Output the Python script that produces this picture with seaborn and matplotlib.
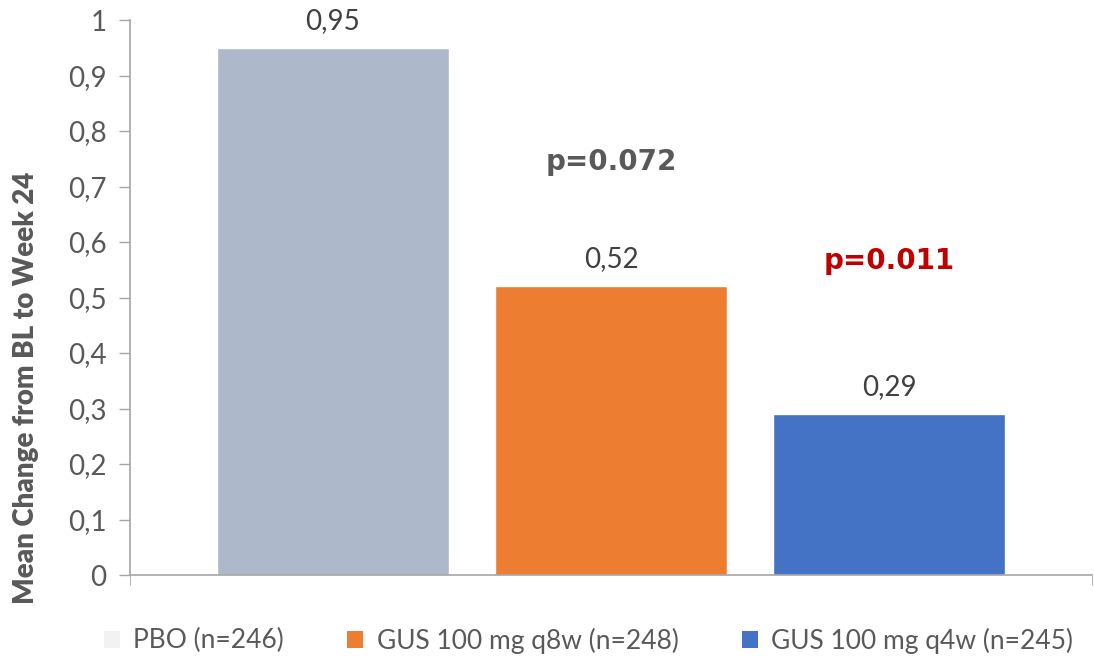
import numpy as np
import pandas as pd
import seaborn as sns
import matplotlib.pyplot as plt
from matplotlib.patches import Patch

groups = ["PBO (n=246)", "GUS 100 mg q8w (n=248)", "GUS 100 mg q4w (n=245)"]
mean_change = [0.95, 0.52, 0.29]
bar_colors = ["#ADB9CA", "#ED7D31", "#4472C4"]
legend_colors = ["#F2F2F2", "#ED7D31", "#4472C4"]
p_labels = ["p=0.072", "p=0.011"]
p_colors = ["#595959", "#C00000"]
p_heights = [0.745, 0.565]
yticks = np.arange(0, 1.01, 0.1)

df = pd.DataFrame({"group": groups, "change": mean_change})

sns.set_style("white")
plt.rcParams["font.family"] = ["Lato", "DejaVu Sans"]

fig = plt.figure(figsize=(10.94, 6.63), dpi=100)
ax = fig.add_axes([0.1188, 0.1327, 0.8795, 0.8371])

sns.barplot(data=df, x="group", y="change", hue="group", palette=bar_colors,
            width=0.835, legend=False, ax=ax, saturation=1)

for cont in ax.containers:
    ax.bar_label(cont, labels=[f"{v:.2f}".replace(".", ",") for v in cont.datavalues],
                 padding=10, fontsize=20, color="#404040")

# p-values above the treatment groups
for i, (txt, col, h) in enumerate(zip(p_labels, p_colors, p_heights)):
    ax.text(i + 1, h, txt, ha="center", va="center", fontsize=20,
            fontweight="bold", color=col, family="DejaVu Sans")

ax.set_xlim(-0.73, 2.73)
ax.set_ylim(0, 1)
ax.set_yticks(yticks)
ax.set_yticklabels([str(int(round(t))) if round(t, 1) in (0.0, 1.0) else f"{t:.1f}".replace(".", ",") for t in yticks])
ax.tick_params(axis="y", left=True, length=8, width=1, color="#A6A6A6",
               labelsize=20, labelcolor="#595959", pad=9)
ax.set_xticks([])
ax.set_xticks([-0.73, 2.73], minor=True)
ax.tick_params(axis="x", which="minor", bottom=True, length=7, color="#A6A6A6")
ax.set_xlabel("")
ax.set_ylabel("")

sns.despine(ax=ax)
for s in ["left", "bottom"]:
    ax.spines[s].set_color("#A6A6A6")
    ax.spines[s].set_linewidth(1.2)

fig.text(0.024, 0.415, "Mean Change from BL to Week 24", rotation=90,
         ha="center", va="center", fontsize=20, fontweight="heavy", color="#595959")

handles = [Patch(facecolor=c, edgecolor="none") for c in legend_colors]
fig.legend(handles, groups, loc="center", bbox_to_anchor=(0.538, 0.034), ncol=3,
           frameon=False, fontsize=19, labelcolor="#595959",
           handlelength=0.6, handleheight=0.6, handletextpad=0.5, columnspacing=2.4)

fig.savefig("out.png", dpi=100)
